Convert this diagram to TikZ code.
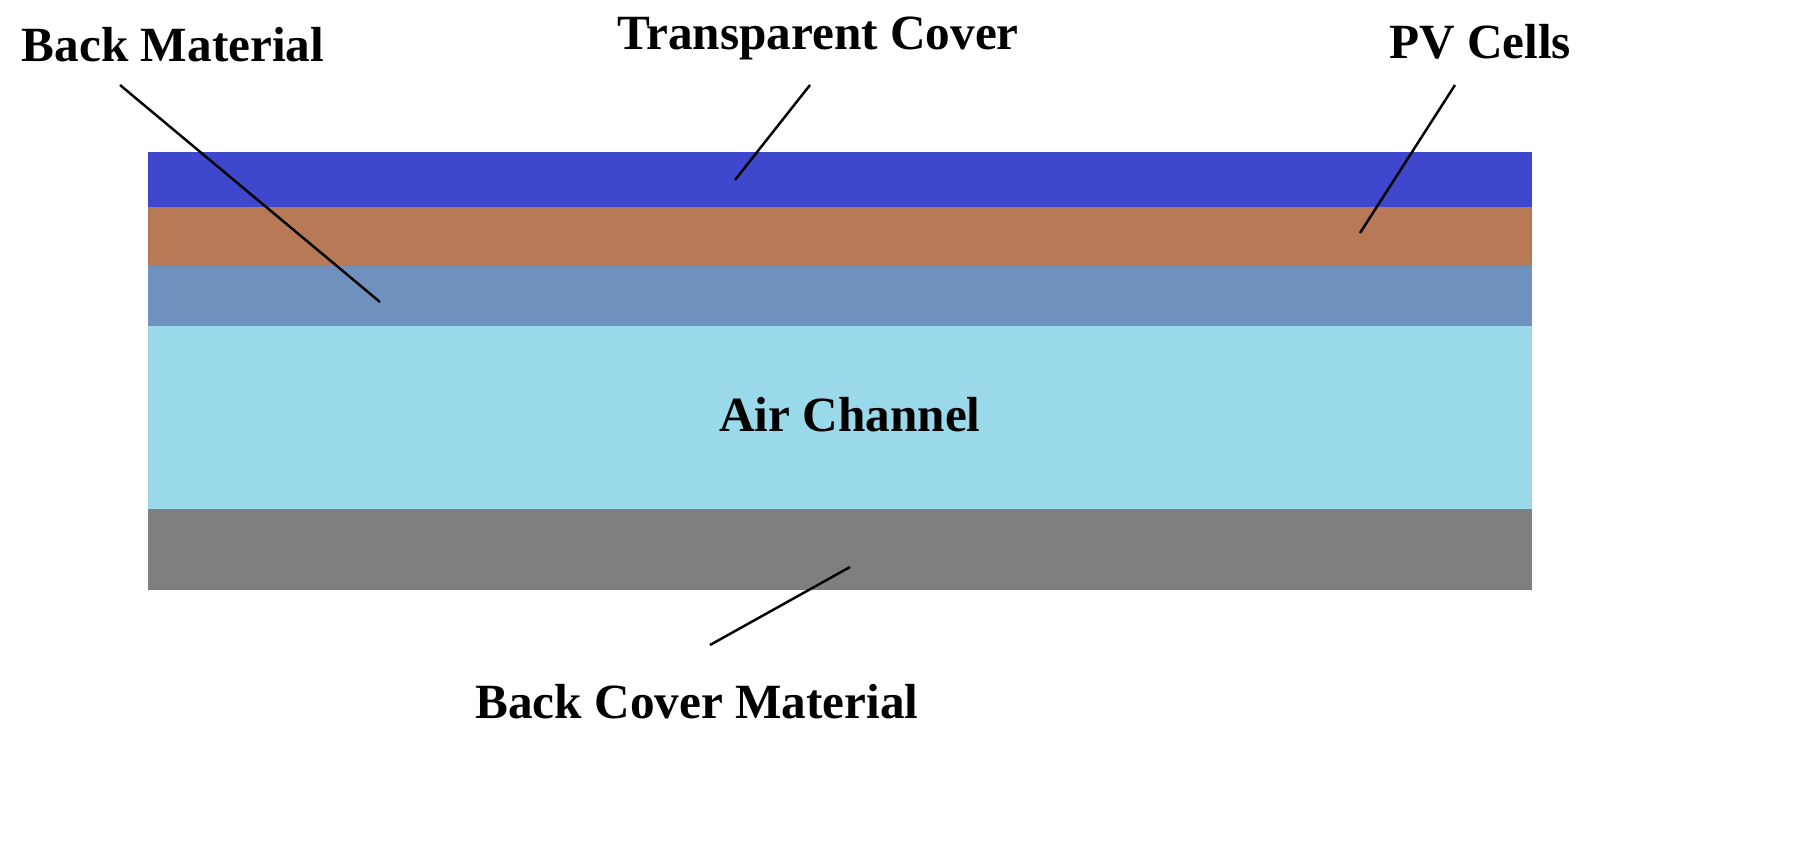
\documentclass[tikz,border=0pt]{standalone}
\usepackage{fontspec}
\setmainfont{Liberation Serif}
\begin{document}
\begin{tikzpicture}[x=0.01cm,y=-0.01cm]
			\definecolor{covercol}{HTML}{3F48CC}
			\definecolor{pvcol}{HTML}{B87A56}
			\definecolor{backcol}{HTML}{6F91BE}
			\definecolor{aircol}{HTML}{99D9EA}
			\definecolor{bottomcol}{HTML}{7F7F7F}
			\tikzset{layer/.style={draw=none},
				lbl/.style={font=\bfseries\fontsize{14}{16}\selectfont,inner sep=0pt},
				pointer/.style={line width=0.7pt,black}}
				\useasboundingbox (0,0) rectangle (1815,851);
				% layers
				\fill[layer,covercol] (148,152) rectangle (1532,207);
				\fill[layer,pvcol] (148,207) rectangle (1532,266);
				\fill[layer,backcol] (148,266) rectangle (1532,326);
				\fill[layer,aircol] (148,326) rectangle (1532,509);
				\fill[layer,bottomcol] (148,509) rectangle (1532,590);
				% labels
				\node[lbl] (backmat) at (173,45) {Back Material};
				\node[lbl] (cover) at (818,38) {Transparent Cover};
				\node[lbl] (pv) at (1480,42) {PV Cells};
				\node[lbl] (air) at (850,415) {Air Channel};
				\node[lbl] (bottom) at (697,702) {Back Cover Material};
				% pointers
				\coordinate (backmatA) at (120,85);  \coordinate (backmatB) at (380,302);
				\coordinate (coverA) at (810,85);    \coordinate (coverB) at (735,180);
				\coordinate (pvA) at (1455,85);      \coordinate (pvB) at (1360,233);
				\coordinate (bottomA) at (850,567);  \coordinate (bottomB) at (710,645);
				\draw[pointer] (backmatA)-- (backmatB);
				\draw[pointer] (coverA)-- (coverB);
				\draw[pointer] (pvA)-- (pvB);
				\draw[pointer] (bottomA)-- (bottomB);
		\end{tikzpicture}
\end{document}
